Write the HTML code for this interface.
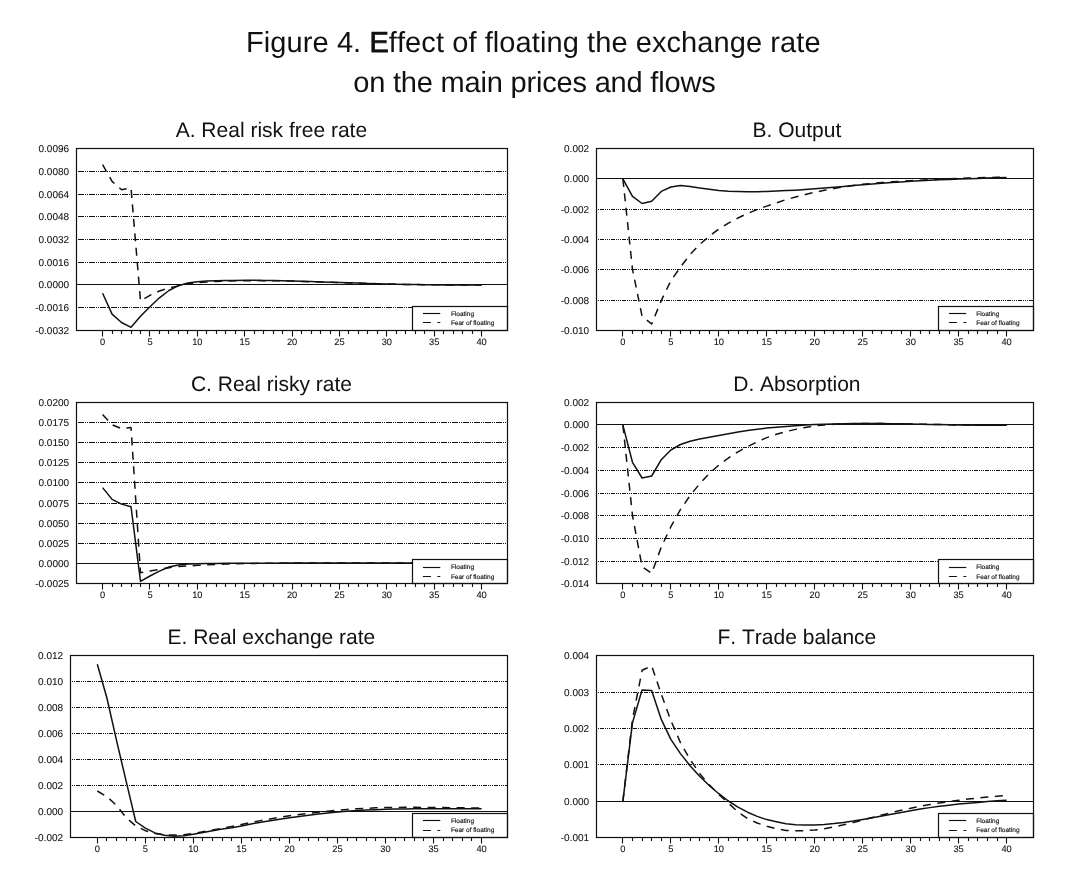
<!DOCTYPE html>
<html><head><meta charset="utf-8"><title>Figure 4</title>
<style>
html,body{margin:0;padding:0;background:#fff;}
body{width:1086px;height:885px;overflow:hidden;font-family:"Liberation Sans",sans-serif;}
svg{display:block;will-change:transform;}
text{text-rendering:geometricPrecision;font-kerning:none;}
text.s{stroke:#111;stroke-width:0.08px;}
text.l{stroke:#111;stroke-width:0.14px;}
</style></head><body>
<svg width="1086" height="885" viewBox="0 0 1086 885" font-family="'Liberation Sans', sans-serif" fill="#111">
<rect x="0" y="0" width="1086" height="885" fill="#fff"/>
<text x="246" y="51.8" font-size="29" textLength="574.6" lengthAdjust="spacing">Figure 4. <tspan stroke="#111" stroke-width="0.8">E</tspan>ffect of floating the exchange rate</text>
<text x="353.25" y="91.5" font-size="29" textLength="362.4" lengthAdjust="spacing">on the main prices and flows</text>
<g>
<text x="271.4" y="137.1" font-size="21" text-anchor="middle">A. Real risk free rate</text>
<text class="s" x="69.1" y="152.1" font-size="10" text-anchor="end">0.0096</text>
<text class="s" x="69.1" y="175.1" font-size="10" text-anchor="end">0.0080</text>
<line x1="78" y1="171.5" x2="507.5" y2="171.5" stroke="#111" stroke-width="1.1" stroke-dasharray="6 1 1 1 1 1" stroke-dashoffset="0"/>
<text class="s" x="69.1" y="198.1" font-size="10" text-anchor="end">0.0064</text>
<line x1="78" y1="194.5" x2="507.5" y2="194.5" stroke="#111" stroke-width="1.1" stroke-dasharray="6 1 1 1 1 1" stroke-dashoffset="0"/>
<text class="s" x="69.1" y="220.1" font-size="10" text-anchor="end">0.0048</text>
<line x1="78" y1="216.5" x2="507.5" y2="216.5" stroke="#111" stroke-width="1.1" stroke-dasharray="6 1 1 1 1 1" stroke-dashoffset="0"/>
<text class="s" x="69.1" y="243.1" font-size="10" text-anchor="end">0.0032</text>
<line x1="78" y1="239.5" x2="507.5" y2="239.5" stroke="#111" stroke-width="1.1" stroke-dasharray="6 1 1 1 1 1" stroke-dashoffset="0"/>
<text class="s" x="69.1" y="266.1" font-size="10" text-anchor="end">0.0016</text>
<line x1="78" y1="262.5" x2="507.5" y2="262.5" stroke="#111" stroke-width="1.1" stroke-dasharray="6 1 1 1 1 1" stroke-dashoffset="0"/>
<text class="s" x="69.1" y="288.1" font-size="10" text-anchor="end">0.0000</text>
<line x1="76.5" y1="284.5" x2="507.5" y2="284.5" stroke="#111" stroke-width="1.2"/>
<text class="s" x="69.1" y="311.1" font-size="10" text-anchor="end">-0.0016</text>
<line x1="78" y1="307.5" x2="507.5" y2="307.5" stroke="#111" stroke-width="1.1" stroke-dasharray="6 1 1 1 1 1" stroke-dashoffset="0"/>
<text class="s" x="69.1" y="334.1" font-size="10" text-anchor="end">-0.0032</text>
<polyline points="102.6,293.2 112.07,314.1 121.55,322.5 131.02,327.3 140.5,316.2 149.97,306.8 159.45,297.8 168.93,290.5 178.4,285.7 187.88,283 197.35,281.7 206.82,281.1 216.3,280.7 225.77,280.55 235.25,280.4 244.72,280.35 254.2,280.3 263.67,280.4 273.15,280.5 282.62,280.75 292.1,281 301.57,281.3 311.05,281.6 320.52,281.9 330,282.2 339.48,282.5 348.95,282.8 358.42,283.1 367.9,283.4 377.38,283.7 386.85,284 396.32,284.2 405.8,284.4 415.27,284.6 424.75,284.7 434.23,284.8 443.7,284.9 453.17,284.92 462.65,284.95 472.12,284.98 481.6,285" fill="none" stroke="#111" stroke-width="1.5" stroke-linejoin="round"/>
<polyline points="102.6,164.6 112.07,181.4 121.55,189.7 131.02,188 140.5,301 149.97,295.3 159.45,291 168.93,288 178.4,285.9 187.88,283.9 197.35,282.7 206.82,282 216.3,281.4 225.77,281.1 235.25,280.8 244.72,280.7 254.2,280.6 263.67,280.65 273.15,280.7 282.62,280.9 292.1,281.1 301.57,281.4 311.05,281.7 320.52,282 330,282.3 339.48,282.6 348.95,282.88 358.42,283.16 367.9,283.44 377.38,283.72 386.85,284 396.32,284.2 405.8,284.4 415.27,284.6 424.75,284.7 434.23,284.8 443.7,284.9 453.17,284.92 462.65,284.95 472.12,284.98 481.6,285" fill="none" stroke="#111" stroke-width="1.5" stroke-linejoin="round" stroke-dasharray="8 6.5"/>
<rect x="412.5" y="306.5" width="95" height="24" fill="#fff" stroke="#111" stroke-width="1.2"/>
<line x1="422.9" y1="313.5" x2="440.3" y2="313.5" stroke="#111" stroke-width="1.15"/>
<line x1="422.9" y1="322.5" x2="440.3" y2="322.5" stroke="#111" stroke-width="1.15" stroke-dasharray="8 6.5"/>
<text class="l" x="450.9" y="315.7" font-size="6.5">Floating</text>
<text class="l" x="450.9" y="324.8" font-size="6.5">Fear of floating</text>
<rect x="76.5" y="148.5" width="431" height="182" fill="none" stroke="#111" stroke-width="1.2"/>
<text class="s" x="102.6" y="344.8" font-size="9.3" text-anchor="middle">0</text>
<text class="s" x="149.97" y="344.8" font-size="9.3" text-anchor="middle">5</text>
<text class="s" x="197.35" y="344.8" font-size="9.3" text-anchor="middle">10</text>
<text class="s" x="244.72" y="344.8" font-size="9.3" text-anchor="middle">15</text>
<text class="s" x="292.1" y="344.8" font-size="9.3" text-anchor="middle">20</text>
<text class="s" x="339.48" y="344.8" font-size="9.3" text-anchor="middle">25</text>
<text class="s" x="386.85" y="344.8" font-size="9.3" text-anchor="middle">30</text>
<text class="s" x="434.23" y="344.8" font-size="9.3" text-anchor="middle">35</text>
<text class="s" x="481.6" y="344.8" font-size="9.3" text-anchor="middle">40</text>
<path d="M102.5 330.5v6M112.5 330.5v3.4M121.5 330.5v3.4M131.5 330.5v3.4M140.5 330.5v3.4M149.5 330.5v6M159.5 330.5v3.4M168.5 330.5v3.4M178.5 330.5v3.4M187.5 330.5v3.4M197.5 330.5v6M206.5 330.5v3.4M216.5 330.5v3.4M225.5 330.5v3.4M235.5 330.5v3.4M244.5 330.5v6M254.5 330.5v3.4M263.5 330.5v3.4M273.5 330.5v3.4M282.5 330.5v3.4M292.5 330.5v6M301.5 330.5v3.4M311.5 330.5v3.4M320.5 330.5v3.4M330.5 330.5v3.4M339.5 330.5v6M348.5 330.5v3.4M358.5 330.5v3.4M367.5 330.5v3.4M377.5 330.5v3.4M386.5 330.5v6M396.5 330.5v3.4M405.5 330.5v3.4M415.5 330.5v3.4M424.5 330.5v3.4M434.5 330.5v6M443.5 330.5v3.4M453.5 330.5v3.4M462.5 330.5v3.4M472.5 330.5v3.4M481.5 330.5v6" stroke="#111" stroke-width="1.1" fill="none"/>
</g>
<g>
<text x="796.9" y="137.1" font-size="21" text-anchor="middle">B. Output</text>
<text class="s" x="589.1" y="152.1" font-size="10" text-anchor="end">0.002</text>
<text class="s" x="589.1" y="182.1" font-size="10" text-anchor="end">0.000</text>
<line x1="596.5" y1="178.5" x2="1033.5" y2="178.5" stroke="#111" stroke-width="1.2"/>
<text class="s" x="589.1" y="213.1" font-size="10" text-anchor="end">-0.002</text>
<line x1="598" y1="209.5" x2="1033.5" y2="209.5" stroke="#111" stroke-width="1.1" stroke-dasharray="4 1 1 1 1 1 1 1" stroke-dashoffset="9"/>
<text class="s" x="589.1" y="243.1" font-size="10" text-anchor="end">-0.004</text>
<line x1="598" y1="239.5" x2="1033.5" y2="239.5" stroke="#111" stroke-width="1.1" stroke-dasharray="4 1 1 1 1 1 1 1" stroke-dashoffset="9"/>
<text class="s" x="589.1" y="273.1" font-size="10" text-anchor="end">-0.006</text>
<line x1="598" y1="269.5" x2="1033.5" y2="269.5" stroke="#111" stroke-width="1.1" stroke-dasharray="4 1 1 1 1 1 1 1" stroke-dashoffset="9"/>
<text class="s" x="589.1" y="304.1" font-size="10" text-anchor="end">-0.008</text>
<line x1="598" y1="300.5" x2="1033.5" y2="300.5" stroke="#111" stroke-width="1.1" stroke-dasharray="4 1 1 1 1 1 1 1" stroke-dashoffset="9"/>
<text class="s" x="589.1" y="334.1" font-size="10" text-anchor="end">-0.010</text>
<polyline points="622.9,178.9 632.49,196.4 642.09,203.5 651.68,201.2 661.27,191.4 670.86,187 680.45,185.6 690.05,186.6 699.64,188.1 709.23,189.3 718.83,190.4 728.42,191.2 738.01,191.6 747.6,191.8 757.19,191.8 766.79,191.4 776.38,191.1 785.97,190.62 795.57,190.14 805.16,189.47 814.75,188.71 824.34,187.96 833.93,187.2 843.53,186.41 853.12,185.58 862.71,184.75 872.31,183.93 881.9,183.21 891.49,182.56 901.08,181.91 910.67,181.26 920.27,180.74 929.86,180.3 939.45,179.86 949.05,179.42 958.64,179.04 968.23,178.71 977.82,178.39 987.41,178.06 997.01,177.77 1006.6,177.5" fill="none" stroke="#111" stroke-width="1.5" stroke-linejoin="round"/>
<polyline points="622.9,178.9 632.49,269.4 642.09,316.3 651.68,324 661.27,300.6 670.86,280.7 680.45,267.1 690.05,254.6 699.64,244.5 709.23,236.2 718.83,229.1 728.42,223.2 738.01,218 747.6,213.4 757.19,209.6 766.79,206.1 776.38,203 785.97,199.6 795.57,197.08 805.16,194.56 814.75,192.23 824.34,190.34 833.93,188.46 843.53,186.92 853.12,185.61 862.71,184.3 872.31,183.45 881.9,182.6 891.49,181.83 901.08,181.28 910.67,180.72 920.27,180.2 929.86,179.7 939.45,179.2 949.05,178.81 958.64,178.41 968.23,178.05 977.82,177.79 987.41,177.53 997.01,177.3 1006.6,177.1" fill="none" stroke="#111" stroke-width="1.5" stroke-linejoin="round" stroke-dasharray="8 6.5"/>
<rect x="938.5" y="306.5" width="95" height="24" fill="#fff" stroke="#111" stroke-width="1.2"/>
<line x1="948.9" y1="313.5" x2="966.3" y2="313.5" stroke="#111" stroke-width="1.15"/>
<line x1="948.9" y1="322.5" x2="966.3" y2="322.5" stroke="#111" stroke-width="1.15" stroke-dasharray="8 6.5"/>
<text class="l" x="976.2" y="315.7" font-size="6.5">Floating</text>
<text class="l" x="976.2" y="324.8" font-size="6.5">Fear of floating</text>
<rect x="596.5" y="148.5" width="437" height="182" fill="none" stroke="#111" stroke-width="1.2"/>
<text class="s" x="622.9" y="344.8" font-size="9.3" text-anchor="middle">0</text>
<text class="s" x="670.86" y="344.8" font-size="9.3" text-anchor="middle">5</text>
<text class="s" x="718.83" y="344.8" font-size="9.3" text-anchor="middle">10</text>
<text class="s" x="766.79" y="344.8" font-size="9.3" text-anchor="middle">15</text>
<text class="s" x="814.75" y="344.8" font-size="9.3" text-anchor="middle">20</text>
<text class="s" x="862.71" y="344.8" font-size="9.3" text-anchor="middle">25</text>
<text class="s" x="910.67" y="344.8" font-size="9.3" text-anchor="middle">30</text>
<text class="s" x="958.64" y="344.8" font-size="9.3" text-anchor="middle">35</text>
<text class="s" x="1006.6" y="344.8" font-size="9.3" text-anchor="middle">40</text>
<path d="M622.5 330.5v6M632.5 330.5v3.4M642.5 330.5v3.4M651.5 330.5v3.4M661.5 330.5v3.4M670.5 330.5v6M680.5 330.5v3.4M690.5 330.5v3.4M699.5 330.5v3.4M709.5 330.5v3.4M718.5 330.5v6M728.5 330.5v3.4M738.5 330.5v3.4M747.5 330.5v3.4M757.5 330.5v3.4M766.5 330.5v6M776.5 330.5v3.4M785.5 330.5v3.4M795.5 330.5v3.4M805.5 330.5v3.4M814.5 330.5v6M824.5 330.5v3.4M833.5 330.5v3.4M843.5 330.5v3.4M853.5 330.5v3.4M862.5 330.5v6M872.5 330.5v3.4M881.5 330.5v3.4M891.5 330.5v3.4M901.5 330.5v3.4M910.5 330.5v6M920.5 330.5v3.4M929.5 330.5v3.4M939.5 330.5v3.4M949.5 330.5v3.4M958.5 330.5v6M968.5 330.5v3.4M977.5 330.5v3.4M987.5 330.5v3.4M997.5 330.5v3.4M1006.5 330.5v6" stroke="#111" stroke-width="1.1" fill="none"/>
</g>
<g>
<text x="271.4" y="391.1" font-size="21" text-anchor="middle">C. Real risky rate</text>
<text class="s" x="69.1" y="406.1" font-size="10" text-anchor="end">0.0200</text>
<text class="s" x="69.1" y="426.1" font-size="10" text-anchor="end">0.0175</text>
<line x1="78" y1="422.5" x2="507.5" y2="422.5" stroke="#111" stroke-width="1.1" stroke-dasharray="6 1 1 1 1 1" stroke-dashoffset="0"/>
<text class="s" x="69.1" y="446.1" font-size="10" text-anchor="end">0.0150</text>
<line x1="78" y1="442.5" x2="507.5" y2="442.5" stroke="#111" stroke-width="1.1" stroke-dasharray="6 1 1 1 1 1" stroke-dashoffset="0"/>
<text class="s" x="69.1" y="466.1" font-size="10" text-anchor="end">0.0125</text>
<line x1="78" y1="462.5" x2="507.5" y2="462.5" stroke="#111" stroke-width="1.1" stroke-dasharray="6 1 1 1 1 1" stroke-dashoffset="0"/>
<text class="s" x="69.1" y="486.1" font-size="10" text-anchor="end">0.0100</text>
<line x1="78" y1="482.5" x2="507.5" y2="482.5" stroke="#111" stroke-width="1.1" stroke-dasharray="6 1 1 1 1 1" stroke-dashoffset="0"/>
<text class="s" x="69.1" y="507.1" font-size="10" text-anchor="end">0.0075</text>
<line x1="78" y1="503.5" x2="507.5" y2="503.5" stroke="#111" stroke-width="1.1" stroke-dasharray="6 1 1 1 1 1" stroke-dashoffset="0"/>
<text class="s" x="69.1" y="527.1" font-size="10" text-anchor="end">0.0050</text>
<line x1="78" y1="523.5" x2="507.5" y2="523.5" stroke="#111" stroke-width="1.1" stroke-dasharray="6 1 1 1 1 1" stroke-dashoffset="0"/>
<text class="s" x="69.1" y="547.1" font-size="10" text-anchor="end">0.0025</text>
<line x1="78" y1="543.5" x2="507.5" y2="543.5" stroke="#111" stroke-width="1.1" stroke-dasharray="6 1 1 1 1 1" stroke-dashoffset="0"/>
<text class="s" x="69.1" y="567.1" font-size="10" text-anchor="end">0.0000</text>
<line x1="76.5" y1="563.5" x2="507.5" y2="563.5" stroke="#111" stroke-width="1.2"/>
<text class="s" x="69.1" y="587.1" font-size="10" text-anchor="end">-0.0025</text>
<polyline points="102.6,487.6 112.07,499.4 121.55,504.1 131.02,506.7 140.5,581.4 149.97,576 159.45,571.1 168.93,567 178.4,564.9 187.88,564 197.35,563.7 206.82,563.55 216.3,563.4 225.77,563.33 235.25,563.27 244.72,563.2 254.2,563.18 263.67,563.16 273.15,563.14 282.62,563.12 292.1,563.1 301.57,563.1 311.05,563.1 320.52,563.1 330,563.1 339.48,563.1 348.95,563.1 358.42,563.1 367.9,563.1 377.38,563.1 386.85,563.1 396.32,563.1 405.8,563.1 415.27,563.1 424.75,563.1 434.23,563.1 443.7,563.1 453.17,563.1 462.65,563.1 472.12,563.1 481.6,563.1" fill="none" stroke="#111" stroke-width="1.5" stroke-linejoin="round"/>
<polyline points="102.6,414.6 112.07,424.7 121.55,428.6 131.02,427.5 140.5,572.8 149.97,571.1 159.45,569.4 168.93,567.7 178.4,566.6 187.88,566 197.35,565.3 206.82,564.85 216.3,564.4 225.77,564.1 235.25,563.8 244.72,563.6 254.2,563.4 263.67,563.33 273.15,563.25 282.62,563.17 292.1,563.1 301.57,563.1 311.05,563.1 320.52,563.1 330,563.1 339.48,563.1 348.95,563.1 358.42,563.1 367.9,563.1 377.38,563.1 386.85,563.1 396.32,563.1 405.8,563.1 415.27,563.1 424.75,563.1 434.23,563.1 443.7,563.1 453.17,563.1 462.65,563.1 472.12,563.1 481.6,563.1" fill="none" stroke="#111" stroke-width="1.5" stroke-linejoin="round" stroke-dasharray="8 6.5"/>
<rect x="412.5" y="559.5" width="95" height="24" fill="#fff" stroke="#111" stroke-width="1.2"/>
<line x1="422.9" y1="567.5" x2="440.3" y2="567.5" stroke="#111" stroke-width="1.15"/>
<line x1="422.9" y1="576.5" x2="440.3" y2="576.5" stroke="#111" stroke-width="1.15" stroke-dasharray="8 6.5"/>
<text class="l" x="450.9" y="568.7" font-size="6.5">Floating</text>
<text class="l" x="450.9" y="578.6" font-size="6.5">Fear of floating</text>
<rect x="76.5" y="402.5" width="431" height="181" fill="none" stroke="#111" stroke-width="1.2"/>
<text class="s" x="102.6" y="597.8" font-size="9.3" text-anchor="middle">0</text>
<text class="s" x="149.97" y="597.8" font-size="9.3" text-anchor="middle">5</text>
<text class="s" x="197.35" y="597.8" font-size="9.3" text-anchor="middle">10</text>
<text class="s" x="244.72" y="597.8" font-size="9.3" text-anchor="middle">15</text>
<text class="s" x="292.1" y="597.8" font-size="9.3" text-anchor="middle">20</text>
<text class="s" x="339.48" y="597.8" font-size="9.3" text-anchor="middle">25</text>
<text class="s" x="386.85" y="597.8" font-size="9.3" text-anchor="middle">30</text>
<text class="s" x="434.23" y="597.8" font-size="9.3" text-anchor="middle">35</text>
<text class="s" x="481.6" y="597.8" font-size="9.3" text-anchor="middle">40</text>
<path d="M102.5 583.5v6M112.5 583.5v3.4M121.5 583.5v3.4M131.5 583.5v3.4M140.5 583.5v3.4M149.5 583.5v6M159.5 583.5v3.4M168.5 583.5v3.4M178.5 583.5v3.4M187.5 583.5v3.4M197.5 583.5v6M206.5 583.5v3.4M216.5 583.5v3.4M225.5 583.5v3.4M235.5 583.5v3.4M244.5 583.5v6M254.5 583.5v3.4M263.5 583.5v3.4M273.5 583.5v3.4M282.5 583.5v3.4M292.5 583.5v6M301.5 583.5v3.4M311.5 583.5v3.4M320.5 583.5v3.4M330.5 583.5v3.4M339.5 583.5v6M348.5 583.5v3.4M358.5 583.5v3.4M367.5 583.5v3.4M377.5 583.5v3.4M386.5 583.5v6M396.5 583.5v3.4M405.5 583.5v3.4M415.5 583.5v3.4M424.5 583.5v3.4M434.5 583.5v6M443.5 583.5v3.4M453.5 583.5v3.4M462.5 583.5v3.4M472.5 583.5v3.4M481.5 583.5v6" stroke="#111" stroke-width="1.1" fill="none"/>
</g>
<g>
<text x="796.9" y="391.1" font-size="21" text-anchor="middle">D. Absorption</text>
<text class="s" x="589.1" y="406.1" font-size="10" text-anchor="end">0.002</text>
<text class="s" x="589.1" y="428.1" font-size="10" text-anchor="end">0.000</text>
<line x1="596.5" y1="424.5" x2="1033.5" y2="424.5" stroke="#111" stroke-width="1.2"/>
<text class="s" x="589.1" y="451.1" font-size="10" text-anchor="end">-0.002</text>
<line x1="598" y1="447.5" x2="1033.5" y2="447.5" stroke="#111" stroke-width="1.1" stroke-dasharray="4 1 1 1 1 1 1 1" stroke-dashoffset="9"/>
<text class="s" x="589.1" y="474.1" font-size="10" text-anchor="end">-0.004</text>
<line x1="598" y1="470.5" x2="1033.5" y2="470.5" stroke="#111" stroke-width="1.1" stroke-dasharray="4 1 1 1 1 1 1 1" stroke-dashoffset="9"/>
<text class="s" x="589.1" y="497.1" font-size="10" text-anchor="end">-0.006</text>
<line x1="598" y1="493.5" x2="1033.5" y2="493.5" stroke="#111" stroke-width="1.1" stroke-dasharray="4 1 1 1 1 1 1 1" stroke-dashoffset="9"/>
<text class="s" x="589.1" y="519.1" font-size="10" text-anchor="end">-0.008</text>
<line x1="598" y1="515.5" x2="1033.5" y2="515.5" stroke="#111" stroke-width="1.1" stroke-dasharray="4 1 1 1 1 1 1 1" stroke-dashoffset="9"/>
<text class="s" x="589.1" y="542.1" font-size="10" text-anchor="end">-0.010</text>
<line x1="598" y1="538.5" x2="1033.5" y2="538.5" stroke="#111" stroke-width="1.1" stroke-dasharray="4 1 1 1 1 1 1 1" stroke-dashoffset="9"/>
<text class="s" x="589.1" y="565.1" font-size="10" text-anchor="end">-0.012</text>
<line x1="598" y1="561.5" x2="1033.5" y2="561.5" stroke="#111" stroke-width="1.1" stroke-dasharray="4 1 1 1 1 1 1 1" stroke-dashoffset="9"/>
<text class="s" x="589.1" y="587.1" font-size="10" text-anchor="end">-0.014</text>
<polyline points="622.9,425.1 632.49,462.3 642.09,478 651.68,476 661.27,459.7 670.86,450 680.45,444.5 690.05,441.2 699.64,439.1 709.23,437.2 718.83,435.4 728.42,433.7 738.01,432 747.6,430.5 757.19,429.2 766.79,428.1 776.38,427.2 785.97,426.4 795.57,425.73 805.16,425.07 814.75,424.51 824.34,424.21 833.93,423.92 843.53,423.71 853.12,423.55 862.71,423.4 872.31,423.47 881.9,423.55 891.49,423.66 901.08,423.84 910.67,424.03 920.27,424.22 929.86,424.41 939.45,424.6 949.05,424.78 958.64,424.96 968.23,425.12 977.82,425.23 987.41,425.34 997.01,425.33 1006.6,425.2" fill="none" stroke="#111" stroke-width="1.5" stroke-linejoin="round"/>
<polyline points="622.9,425.1 632.49,515.5 642.09,566.7 651.68,573.3 661.27,547.1 670.86,526.7 680.45,509.5 690.05,495.6 699.64,483.8 709.23,473.5 718.83,465.1 728.42,458 738.01,451.8 747.6,446.6 757.19,441.9 766.79,437.6 776.38,434.31 785.97,431.6 795.57,429.37 805.16,427.4 814.75,425.82 824.34,424.9 833.93,424.26 843.53,423.86 853.12,423.63 862.71,423.4 872.31,423.47 881.9,423.55 891.49,423.66 901.08,423.84 910.67,424.03 920.27,424.22 929.86,424.41 939.45,424.6 949.05,424.78 958.64,424.96 968.23,425.12 977.82,425.23 987.41,425.34 997.01,425.33 1006.6,425.2" fill="none" stroke="#111" stroke-width="1.5" stroke-linejoin="round" stroke-dasharray="8 6.5"/>
<rect x="938.5" y="559.5" width="95" height="24" fill="#fff" stroke="#111" stroke-width="1.2"/>
<line x1="948.9" y1="567.5" x2="966.3" y2="567.5" stroke="#111" stroke-width="1.15"/>
<line x1="948.9" y1="576.5" x2="966.3" y2="576.5" stroke="#111" stroke-width="1.15" stroke-dasharray="8 6.5"/>
<text class="l" x="976.2" y="568.7" font-size="6.5">Floating</text>
<text class="l" x="976.2" y="578.6" font-size="6.5">Fear of floating</text>
<rect x="596.5" y="402.5" width="437" height="181" fill="none" stroke="#111" stroke-width="1.2"/>
<text class="s" x="622.9" y="597.8" font-size="9.3" text-anchor="middle">0</text>
<text class="s" x="670.86" y="597.8" font-size="9.3" text-anchor="middle">5</text>
<text class="s" x="718.83" y="597.8" font-size="9.3" text-anchor="middle">10</text>
<text class="s" x="766.79" y="597.8" font-size="9.3" text-anchor="middle">15</text>
<text class="s" x="814.75" y="597.8" font-size="9.3" text-anchor="middle">20</text>
<text class="s" x="862.71" y="597.8" font-size="9.3" text-anchor="middle">25</text>
<text class="s" x="910.67" y="597.8" font-size="9.3" text-anchor="middle">30</text>
<text class="s" x="958.64" y="597.8" font-size="9.3" text-anchor="middle">35</text>
<text class="s" x="1006.6" y="597.8" font-size="9.3" text-anchor="middle">40</text>
<path d="M622.5 583.5v6M632.5 583.5v3.4M642.5 583.5v3.4M651.5 583.5v3.4M661.5 583.5v3.4M670.5 583.5v6M680.5 583.5v3.4M690.5 583.5v3.4M699.5 583.5v3.4M709.5 583.5v3.4M718.5 583.5v6M728.5 583.5v3.4M738.5 583.5v3.4M747.5 583.5v3.4M757.5 583.5v3.4M766.5 583.5v6M776.5 583.5v3.4M785.5 583.5v3.4M795.5 583.5v3.4M805.5 583.5v3.4M814.5 583.5v6M824.5 583.5v3.4M833.5 583.5v3.4M843.5 583.5v3.4M853.5 583.5v3.4M862.5 583.5v6M872.5 583.5v3.4M881.5 583.5v3.4M891.5 583.5v3.4M901.5 583.5v3.4M910.5 583.5v6M920.5 583.5v3.4M929.5 583.5v3.4M939.5 583.5v3.4M949.5 583.5v3.4M958.5 583.5v6M968.5 583.5v3.4M977.5 583.5v3.4M987.5 583.5v3.4M997.5 583.5v3.4M1006.5 583.5v6" stroke="#111" stroke-width="1.1" fill="none"/>
</g>
<g>
<text x="271.4" y="644.1" font-size="21" text-anchor="middle">E. Real exchange rate</text>
<text class="s" x="63.1" y="659.1" font-size="10" text-anchor="end">0.012</text>
<text class="s" x="63.1" y="685.1" font-size="10" text-anchor="end">0.010</text>
<line x1="72" y1="681.5" x2="507.5" y2="681.5" stroke="#111" stroke-width="1.1" stroke-dasharray="4 1 1 1 1 1 1 1" stroke-dashoffset="7"/>
<text class="s" x="63.1" y="711.1" font-size="10" text-anchor="end">0.008</text>
<line x1="72" y1="707.5" x2="507.5" y2="707.5" stroke="#111" stroke-width="1.1" stroke-dasharray="4 1 1 1 1 1 1 1" stroke-dashoffset="7"/>
<text class="s" x="63.1" y="737.1" font-size="10" text-anchor="end">0.006</text>
<line x1="72" y1="733.5" x2="507.5" y2="733.5" stroke="#111" stroke-width="1.1" stroke-dasharray="4 1 1 1 1 1 1 1" stroke-dashoffset="7"/>
<text class="s" x="63.1" y="763.1" font-size="10" text-anchor="end">0.004</text>
<line x1="72" y1="759.5" x2="507.5" y2="759.5" stroke="#111" stroke-width="1.1" stroke-dasharray="4 1 1 1 1 1 1 1" stroke-dashoffset="7"/>
<text class="s" x="63.1" y="789.1" font-size="10" text-anchor="end">0.002</text>
<line x1="72" y1="785.5" x2="507.5" y2="785.5" stroke="#111" stroke-width="1.1" stroke-dasharray="4 1 1 1 1 1 1 1" stroke-dashoffset="7"/>
<text class="s" x="63.1" y="815.1" font-size="10" text-anchor="end">0.000</text>
<line x1="70.5" y1="811.5" x2="507.5" y2="811.5" stroke="#111" stroke-width="1.2"/>
<text class="s" x="63.1" y="841.1" font-size="10" text-anchor="end">-0.002</text>
<polyline points="97.3,664.3 106.91,698 116.52,740.4 126.12,781.1 135.73,821.5 145.34,828.1 154.94,832.9 164.55,835.3 174.16,836.2 183.77,835.8 193.38,834.2 202.98,832.5 212.59,830.7 222.2,829 231.81,827.81 241.41,825.89 251.02,823.96 260.63,822.24 270.24,820.72 279.84,819.2 289.45,817.83 299.06,816.5 308.67,815.19 318.27,814.07 327.88,812.96 337.49,812.03 347.09,811.29 356.7,810.55 366.31,810.07 375.92,809.67 385.53,809.28 395.13,809.1 404.74,808.91 414.35,808.79 423.95,808.76 433.56,808.73 443.17,808.7 452.78,808.73 462.38,808.75 471.99,808.77 481.6,808.8" fill="none" stroke="#111" stroke-width="1.5" stroke-linejoin="round"/>
<polyline points="97.3,791 106.91,796.6 116.52,805.4 126.12,817.5 135.73,825.9 145.34,830.7 154.94,833.4 164.55,834.7 174.16,835.1 183.77,834.7 193.38,833.4 202.98,831.8 212.59,830.1 222.2,828.32 231.81,826.5 241.41,824.5 251.02,822.5 260.63,820.63 270.24,818.89 279.84,817.15 289.45,815.82 299.06,814.6 308.67,813.39 318.27,812.27 327.88,811.16 337.49,810.23 347.09,809.49 356.7,808.75 366.31,808.27 375.92,807.87 385.53,807.49 395.13,807.42 404.74,807.34 414.35,807.33 423.95,807.4 433.56,807.48 443.17,807.58 452.78,807.69 462.38,807.8 471.99,807.9 481.6,808" fill="none" stroke="#111" stroke-width="1.5" stroke-linejoin="round" stroke-dasharray="8 6.5"/>
<rect x="412.5" y="813.5" width="95" height="24" fill="#fff" stroke="#111" stroke-width="1.2"/>
<line x1="422.9" y1="820.5" x2="440.3" y2="820.5" stroke="#111" stroke-width="1.15"/>
<line x1="422.9" y1="830.5" x2="440.3" y2="830.5" stroke="#111" stroke-width="1.15" stroke-dasharray="8 6.5"/>
<text class="l" x="450.9" y="822.7" font-size="6.5">Floating</text>
<text class="l" x="450.9" y="831.9" font-size="6.5">Fear of floating</text>
<rect x="70.5" y="655.5" width="437" height="182" fill="none" stroke="#111" stroke-width="1.2"/>
<text class="s" x="97.3" y="851.8" font-size="9.3" text-anchor="middle">0</text>
<text class="s" x="145.34" y="851.8" font-size="9.3" text-anchor="middle">5</text>
<text class="s" x="193.38" y="851.8" font-size="9.3" text-anchor="middle">10</text>
<text class="s" x="241.41" y="851.8" font-size="9.3" text-anchor="middle">15</text>
<text class="s" x="289.45" y="851.8" font-size="9.3" text-anchor="middle">20</text>
<text class="s" x="337.49" y="851.8" font-size="9.3" text-anchor="middle">25</text>
<text class="s" x="385.53" y="851.8" font-size="9.3" text-anchor="middle">30</text>
<text class="s" x="433.56" y="851.8" font-size="9.3" text-anchor="middle">35</text>
<text class="s" x="481.6" y="851.8" font-size="9.3" text-anchor="middle">40</text>
<path d="M97.5 837.5v6M106.5 837.5v3.4M116.5 837.5v3.4M126.5 837.5v3.4M135.5 837.5v3.4M145.5 837.5v6M154.5 837.5v3.4M164.5 837.5v3.4M174.5 837.5v3.4M183.5 837.5v3.4M193.5 837.5v6M202.5 837.5v3.4M212.5 837.5v3.4M222.5 837.5v3.4M231.5 837.5v3.4M241.5 837.5v6M251.5 837.5v3.4M260.5 837.5v3.4M270.5 837.5v3.4M279.5 837.5v3.4M289.5 837.5v6M299.5 837.5v3.4M308.5 837.5v3.4M318.5 837.5v3.4M327.5 837.5v3.4M337.5 837.5v6M347.5 837.5v3.4M356.5 837.5v3.4M366.5 837.5v3.4M375.5 837.5v3.4M385.5 837.5v6M395.5 837.5v3.4M404.5 837.5v3.4M414.5 837.5v3.4M423.5 837.5v3.4M433.5 837.5v6M443.5 837.5v3.4M452.5 837.5v3.4M462.5 837.5v3.4M471.5 837.5v3.4M481.5 837.5v6" stroke="#111" stroke-width="1.1" fill="none"/>
</g>
<g>
<text x="796.9" y="644.1" font-size="21" text-anchor="middle">F. Trade balance</text>
<text class="s" x="589.1" y="659.1" font-size="10" text-anchor="end">0.004</text>
<text class="s" x="589.1" y="696.1" font-size="10" text-anchor="end">0.003</text>
<line x1="598" y1="692.5" x2="1033.5" y2="692.5" stroke="#111" stroke-width="1.1" stroke-dasharray="4 1 1 1 1 1 1 1" stroke-dashoffset="9"/>
<text class="s" x="589.1" y="732.1" font-size="10" text-anchor="end">0.002</text>
<line x1="598" y1="728.5" x2="1033.5" y2="728.5" stroke="#111" stroke-width="1.1" stroke-dasharray="4 1 1 1 1 1 1 1" stroke-dashoffset="9"/>
<text class="s" x="589.1" y="768.1" font-size="10" text-anchor="end">0.001</text>
<line x1="598" y1="764.5" x2="1033.5" y2="764.5" stroke="#111" stroke-width="1.1" stroke-dasharray="4 1 1 1 1 1 1 1" stroke-dashoffset="9"/>
<text class="s" x="589.1" y="805.1" font-size="10" text-anchor="end">0.000</text>
<line x1="596.5" y1="801.5" x2="1033.5" y2="801.5" stroke="#111" stroke-width="1.2"/>
<text class="s" x="589.1" y="841.1" font-size="10" text-anchor="end">-0.001</text>
<polyline points="622.9,801.2 632.49,722.7 642.09,689.9 651.68,690.6 661.27,719.4 670.86,739.3 680.45,753.6 690.05,765.7 699.64,776.3 709.23,785.5 718.83,793.7 728.42,801 738.01,807.1 747.6,812.2 757.19,816.4 766.79,819.6 776.38,821.7 785.97,823.7 795.57,824.63 805.16,825.09 814.75,825.02 824.34,824.4 833.93,823.54 843.53,822.46 853.12,821.11 862.71,819.46 872.31,817.71 881.9,815.97 891.49,814.25 901.08,812.48 910.67,810.71 920.27,809.1 929.86,807.62 939.45,806.24 949.05,805.14 958.64,804.1 968.23,803.15 977.82,802.38 987.41,801.59 997.01,800.87 1006.6,800.2" fill="none" stroke="#111" stroke-width="1.5" stroke-linejoin="round"/>
<polyline points="622.9,801.2 632.49,719.4 642.09,670.3 651.68,665.9 661.27,694.1 670.86,720.5 680.45,742.6 690.05,759.5 699.64,773.4 709.23,784.9 718.83,794.4 728.42,803.2 738.01,812 747.6,818.6 757.19,823 766.79,826.3 776.38,828.78 785.97,830.4 795.57,830.76 805.16,830.67 814.75,830.03 824.34,828.8 833.93,826.94 843.53,824.82 853.12,822.47 862.71,820.04 872.31,817.45 881.9,814.99 891.49,812.62 901.08,810.24 910.67,808.2 920.27,806.33 929.86,804.58 939.45,802.96 949.05,801.64 958.64,800.31 968.23,799 977.82,798 987.41,797.06 997.01,796.27 1006.6,795.6" fill="none" stroke="#111" stroke-width="1.5" stroke-linejoin="round" stroke-dasharray="8 6.5"/>
<rect x="938.5" y="813.5" width="95" height="24" fill="#fff" stroke="#111" stroke-width="1.2"/>
<line x1="948.9" y1="820.5" x2="966.3" y2="820.5" stroke="#111" stroke-width="1.15"/>
<line x1="948.9" y1="830.5" x2="966.3" y2="830.5" stroke="#111" stroke-width="1.15" stroke-dasharray="8 6.5"/>
<text class="l" x="976.2" y="822.7" font-size="6.5">Floating</text>
<text class="l" x="976.2" y="831.9" font-size="6.5">Fear of floating</text>
<rect x="596.5" y="655.5" width="437" height="182" fill="none" stroke="#111" stroke-width="1.2"/>
<text class="s" x="622.9" y="851.8" font-size="9.3" text-anchor="middle">0</text>
<text class="s" x="670.86" y="851.8" font-size="9.3" text-anchor="middle">5</text>
<text class="s" x="718.83" y="851.8" font-size="9.3" text-anchor="middle">10</text>
<text class="s" x="766.79" y="851.8" font-size="9.3" text-anchor="middle">15</text>
<text class="s" x="814.75" y="851.8" font-size="9.3" text-anchor="middle">20</text>
<text class="s" x="862.71" y="851.8" font-size="9.3" text-anchor="middle">25</text>
<text class="s" x="910.67" y="851.8" font-size="9.3" text-anchor="middle">30</text>
<text class="s" x="958.64" y="851.8" font-size="9.3" text-anchor="middle">35</text>
<text class="s" x="1006.6" y="851.8" font-size="9.3" text-anchor="middle">40</text>
<path d="M622.5 837.5v6M632.5 837.5v3.4M642.5 837.5v3.4M651.5 837.5v3.4M661.5 837.5v3.4M670.5 837.5v6M680.5 837.5v3.4M690.5 837.5v3.4M699.5 837.5v3.4M709.5 837.5v3.4M718.5 837.5v6M728.5 837.5v3.4M738.5 837.5v3.4M747.5 837.5v3.4M757.5 837.5v3.4M766.5 837.5v6M776.5 837.5v3.4M785.5 837.5v3.4M795.5 837.5v3.4M805.5 837.5v3.4M814.5 837.5v6M824.5 837.5v3.4M833.5 837.5v3.4M843.5 837.5v3.4M853.5 837.5v3.4M862.5 837.5v6M872.5 837.5v3.4M881.5 837.5v3.4M891.5 837.5v3.4M901.5 837.5v3.4M910.5 837.5v6M920.5 837.5v3.4M929.5 837.5v3.4M939.5 837.5v3.4M949.5 837.5v3.4M958.5 837.5v6M968.5 837.5v3.4M977.5 837.5v3.4M987.5 837.5v3.4M997.5 837.5v3.4M1006.5 837.5v6" stroke="#111" stroke-width="1.1" fill="none"/>
</g>
</svg>
</body></html>
